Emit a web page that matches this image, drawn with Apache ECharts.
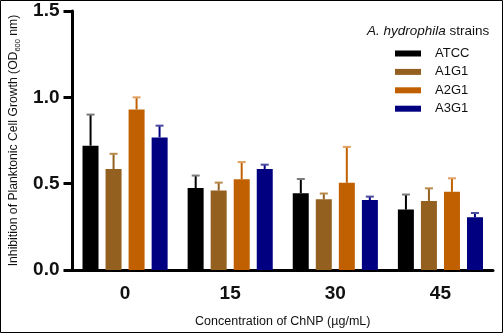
<!DOCTYPE html>
<html>
<head>
<meta charset="utf-8">
<script src="https://cdn.jsdelivr.net/npm/echarts@6/dist/echarts.min.js"></script>
<style>
  html, body { margin: 0; padding: 0; background: #fff; }
  #chart { width: 503px; height: 333px; }
</style>
</head>
<body>
<div id="chart"></div>
<script>
const categories = ["0", "15", "30", "45"];
const strains = ["ATCC", "A1G1", "A2G1", "A3G1"];
const colors = ["#000000", "#93601f", "#c06000", "#000080"];
const capColors = ["#7a7a7a", "#b98a4a", "#e0a060", "#4a4aa0"];

// mean OD600 per concentration, one list per strain
const atcc = [0.72, 0.475, 0.445, 0.35];
const a1g1 = [0.585, 0.46, 0.41, 0.40];
const a2g1 = [0.93, 0.525, 0.505, 0.453];
const a3g1 = [0.768, 0.585, 0.405, 0.305];

// upper error (SD)
const atccErr = [0.18, 0.072, 0.082, 0.087];
const a1g1Err = [0.088, 0.046, 0.033, 0.073];
const a2g1Err = [0.07, 0.10, 0.208, 0.078];
const a3g1Err = [0.068, 0.025, 0.02, 0.025];

const means = [atcc, a1g1, a2g1, a3g1];
const errs = [atccErr, a1g1Err, a2g1Err, a3g1Err];

const yTicks = [0, 0.5, 1.0, 1.5];

const font = 'Arial, "Liberation Sans", Helvetica, sans-serif';
const barWidth = 16;
const barStep = 23;

const chart = echarts.init(document.getElementById("chart"));

const barSeries = strains.map((name, i) => ({
  name,
  type: "bar",
  data: means[i],
  barWidth,
  barGap: "44%",
  itemStyle: { color: colors[i] },
  z: 2,
}));

const errSeries = strains.map((name, i) => ({
  type: "custom",
  silent: true,
  z: 3,
  data: means[i].map((v, k) => [k, v, errs[i][k]]),
  renderItem(params, api) {
    const k = api.value(0);
    const v = api.value(1);
    const e = api.value(2);
    const base = api.coord([k, v]);
    const top = api.coord([k, v + e]);
    const x = base[0] + (i - 1.5) * barStep;
    return {
      type: "group",
      children: [
        {
          type: "line",
          shape: { x1: x, y1: base[1], x2: x, y2: top[1] },
          style: { stroke: colors[i], lineWidth: 2 },
        },
        {
          type: "line",
          shape: { x1: x - 4, y1: top[1], x2: x + 4, y2: top[1] },
          style: { stroke: capColors[i], lineWidth: 2 },
        },
      ],
    };
  },
}));

chart.setOption({
  backgroundColor: "#fff",
  animation: false,
  textStyle: { fontFamily: font },
  grid: { left: 70, right: 10, top: 11, bottom: 62, containLabel: false },
  title: {
    text: "{i|A. hydrophila} strains",
    left: 367,
    top: 24,
    padding: 0,
    textStyle: {
      fontSize: 13.5,
      fontWeight: "normal",
      color: "#111",
      fontFamily: font,
      rich: {
        i: { fontStyle: "italic", fontSize: 13.5, color: "#111", fontFamily: font },
      },
    },
  },
  legend: {
    data: strains,
    orient: "vertical",
    left: 395,
    top: 47,
    padding: 0,
    icon: "rect",
    itemWidth: 26,
    itemHeight: 6,
    itemGap: 5.4,
    textStyle: { fontSize: 13, color: "#111", fontFamily: font, padding: [0, 0, 0, 9] },
  },
  xAxis: {
    type: "category",
    data: categories,
    name: "Concentration of ChNP (µg/mL)",
    nameLocation: "middle",
    nameGap: 45,
    nameTextStyle: { fontSize: 12.5, color: "#111", fontFamily: font },
    axisLine: { lineStyle: { color: "#000", width: 3 } },
    axisTick: { alignWithLabel: true, length: 8, lineStyle: { color: "#000", width: 3 } },
    axisLabel: { fontSize: 19, fontWeight: "bold", color: "#111", margin: 14, fontFamily: font },
  },
  yAxis: {
    type: "value",
    min: yTicks[0],
    max: yTicks[yTicks.length - 1],
    interval: 0.5,
    name: "{a|Inhibition of Planktonic Cell Growth (OD}{s|600}{a| nm)}",
    nameLocation: "middle",
    nameGap: 51,
    nameTextStyle: {
      color: "#111",
      fontFamily: font,
      rich: {
        a: { fontSize: 12.2, color: "#111", fontFamily: font, lineHeight: 15 },
        s: { fontSize: 7.5, color: "#111", fontFamily: font, lineHeight: 15, verticalAlign: "bottom" },
      },
    },
    axisLine: { show: true, lineStyle: { color: "#000", width: 3 } },
    axisTick: { show: true, length: 9, lineStyle: { color: "#000", width: 3 } },
    axisLabel: {
      fontSize: 19,
      fontWeight: "bold",
      color: "#111",
      margin: 13,
      fontFamily: font,
      formatter: v => v.toFixed(1),
    },
    splitLine: { show: false },
  },
  graphic: [
    {
      type: "rect",
      shape: { x: 0.5, y: 0.5, width: 502, height: 332 },
      style: { fill: null, stroke: "#000", lineWidth: 1 },
      silent: true,
      z: 100,
    },
  ],
  series: [...barSeries, ...errSeries],
});
</script>
</body>
</html>
